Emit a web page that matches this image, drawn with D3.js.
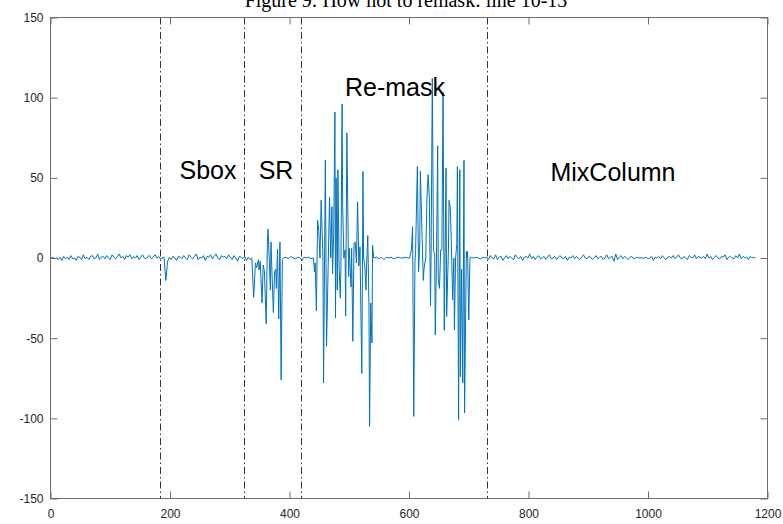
<!DOCTYPE html>
<html>
<head>
<meta charset="utf-8">
<script src="https://cdn.jsdelivr.net/npm/d3@7"></script>
<style>
  html, body { margin: 0; padding: 0; background: #fff; }
  #chart { width: 783px; height: 524px; overflow: hidden; }
</style>
</head>
<body>
<div id="chart"></div>
<script>
// Data
const titleText = 'Figure 9: How not to remask: line 10-13';
const xTicks = [0, 200, 400, 600, 800, 1000, 1200];
const yTicks = [-150, -100, -50, 0, 50, 100, 150];
const phaseBounds = [184, 324, 420, 730];
const phaseLabels = ['Sbox', 'SR', 'Re-mask', 'MixColumn'];
const phaseLabelX = [208, 276, 395, 613];
const phaseLabelY = [49, 49, 101, 48];

// quiet trace before the SR burst: x = 1, 4, 7, ... 337
const noiseBeforeStart = 1;
const noiseStep = 3;
const noiseBefore = [
  0, 0.5, -0.5, 0, -1, 0.5, -1.5, 1, -0.5, 0.5,
  -1, 1.5, -0.5, 0, -1.5, 1, 0.5, -1, 2, -0.5,
  0.5, -1, 1, 1.5, -0.5, 0, 2.5, -1, 0.5, 1,
  -0.5, 1.5, 0, -1, 2, 0.5, -0.5, 1, 2.5, 0,
  1, -1, 1.5, 0.5, 2, -0.5, 1, 0, 1.5, -1,
  0.5, 2, 0, -0.5, 1, 1.5, -0.5, 0.5, 2, 0,
  1, -0.5, 0, 0.5, -14, -2, 0.5, -1, 1, 0,
  -1.5, 1, 0.5, -0.5, 1.5, 0, -1, 2, 0.5, -0.5,
  1, 2.5, -1, 0.5, 0, 1.5, -1.5, 1, 0.5, 2,
  -0.5, 1, 2.5, 0, -1, 1.5, 0.5, 1, -0.5, 2,
  0.5, -1, 1.5, 0, -2, 1, 0.5, -0.5, 1, -1.5,
  0.5, -1, 0
];

// SR burst
const srX = [340, 343, 345, 348, 349, 351, 354, 356, 358, 361, 363, 364, 365, 368, 369, 371, 373, 375, 377, 378, 380, 382, 384, 386, 388];
const srY = [-24.5, -3, -6, -1, -7.5, -2, -28, -4.4, -8, -41, 10, 18, 10, -20, 10, -12.6, -34, -8.5, -7, -19, 5.4, -38, 10, -76, -1];

// flat stretch between SR and the first re-mask burst
const gap1X = [390, 394, 398, 402, 406, 410, 414, 418, 421, 424, 428, 432, 436, 440];
const gap1Y = [0, 0.5, -0.5, 1, 0, -0.5, 0.5, 0, -1.5, 0.5, 0, 0.5, -0.5, 0];

// first re-mask burst
const remask1X = [442, 443, 445, 447, 449, 451, 453, 456, 457, 460, 462, 465, 467, 469, 471, 472, 474, 476, 477, 478, 480, 481, 483, 485, 486, 488, 489, 491, 493, 494, 496, 499, 500, 503, 504, 506, 508, 510, 512, 514, 516, 518, 519, 521, 523, 524, 526, 528, 529, 531, 533, 534, 536, 538, 539, 541];
const remask1Y = [-8.5, -3, -33, 23.6, 17, 0, 36, 0, -78, 61, -55, 0, 38, 0, 32, -10, 15, 91, -37.5, 50, -20, 55, -5, -25, -7, 96, 32, 0, 5, -36, 78, -11.6, 6, -18, 6, -52, 9, 10, -3, 35, -5, 7, -21, -72, 54, 0, -5, -20, -5, 14, -30, -105, -28, -53, 8, 0];

// flat stretch between the two re-mask bursts
const gap2X = [546, 550, 554, 558, 562, 566, 570, 574, 578, 582, 586, 590, 594, 598, 601];
const gap2Y = [0.5, -0.5, 0.5, -1, 0.5, 0, 0.5, -0.5, 0, 0.5, 0, 0, 0.5, 0, 0];

// second re-mask burst
const remask2X = [604, 606, 608, 610, 611, 614, 616, 618, 619, 622, 624, 625, 628, 630, 632, 634, 636, 637, 639, 641, 643, 644, 646, 648, 649, 651, 653, 655, 657, 659, 662, 663, 666, 667, 669, 671, 673, 675, 676, 678, 680, 681, 683, 685, 686, 688, 690, 692, 693, 696, 697, 698, 700, 702];
const remask2Y = [5, 19.5, -98.8, -2, 4, 57, -8.5, 9, 54, 12, -14, -7, 0, 37, 52, 38, -30, 3, 112, 4, 3, -48, 0, 70, -14, -19, 5, 5, 103.5, -45, 56, -36.5, 5, 36, 32, 8, -26, 0, -45, 0, 9, 57, -101, 55, -74, -7, -78, 61, -96.7, 4, 0, 4, -38.6, 0];

// flat stretch before MixColumn
const gap3X = [704, 708, 712, 716, 720, 724, 728];
const gap3Y = [0.5, 0, 0.5, 0, -0.5, 0.5, 0];

// quiet trace during MixColumn: x = 730, 733, ... 1180
const noiseAfterStart = 730;
const noiseAfter = [
  0.5, -1, 1.5, 0, -0.5, 2, -1, 0.5, 1, -1.5,
  0, 1.5, -0.5, 1, 0, -1, 2, 0.5, -0.5, 1,
  -1.5, 0.5, 1, 0, 2.5, -0.5, 1, -1, 0.5, 1.5,
  -0.5, 0, 1, -1, 0.5, 2, -0.5, 0, 1, -1,
  0.5, 1.5, 0, -0.5, 1, -1.5, 0.5, 0, 1.5, -0.5,
  1, 0, -1, 0.5, 2, 0, -0.5, 1, 0.5, -1,
  0, 1.5, -0.5, 0.5, 1, -1, 0, 2, -0.5, 0.5,
  1, -2, 2.5, -1, 0.5, 1.5, -0.5, 1, 0, -1,
  0.5, 1, -0.5, 0, 0.5, 0, 0, 0, 0, 0.5,
  -0.5, 0, 1, -1.5, 0.5, 0, 1, -0.5, 1.5, 0,
  -1, 0.5, 1, 0, 1.5, -0.5, 0.5, 2, 0, -0.5,
  1, 0, -1, 1.5, 0.5, 0, 2, -0.5, 1, 0.5,
  0, 1, -0.5, 2.5, 0, 1, -1, 0.5, 1.5, 0,
  -0.5, 1, 0.5, 2, -1, 0.5, 1, 0, -0.5, 1.5,
  0, 2.5, -0.5, 1, 0, 0.5, -1, 1, 0, 0.5, 0
];

// Assemble the trace
const trace = [];
noiseBefore.forEach((v, i) => trace.push([noiseBeforeStart + i * noiseStep, v]));
[[srX, srY], [gap1X, gap1Y], [remask1X, remask1Y], [gap2X, gap2Y],
 [remask2X, remask2Y], [gap3X, gap3Y]].forEach(([xs, ys]) => {
  xs.forEach((xv, i) => trace.push([xv, ys[i]]));
});
noiseAfter.forEach((v, i) => trace.push([noiseAfterStart + i * noiseStep, v]));

// Layout
const width = 783;
const height = 524;
const plotLeft = 50.5, plotRight = 767.5, plotTop = 17.5, plotBottom = 498.5;
const tickLen = 7;
const axisColor = '#6e6e6e';
const textColor = '#262626';

const x = d3.scaleLinear().domain([0, 1200]).range([plotLeft, plotRight]);
const y = d3.scaleLinear().domain([-150, 150]).range([plotBottom, plotTop]);

const svg = d3.select('#chart')
  .append('svg')
  .attr('width', width)
  .attr('height', height);

svg.append('rect')
  .attr('width', width)
  .attr('height', height)
  .attr('fill', '#fff');

// Title (cut off at the top, as in the original)
svg.append('text')
  .attr('x', 406)
  .attr('y', 7)
  .attr('text-anchor', 'middle')
  .style('font-family', '"Liberation Serif", "Times New Roman", serif')
  .style('font-size', '20px')
  .attr('fill', '#000')
  .text(titleText);

// Data line
svg.append('path')
  .datum(trace)
  .attr('fill', 'none')
  .attr('stroke', '#0072BD')
  .attr('stroke-width', 1)
  .attr('stroke-linejoin', 'round')
  .attr('d', d3.line().x(d => x(d[0])).y(d => y(d[1])));

// Phase boundaries (dash-dot)
svg.selectAll('.bound')
  .data(phaseBounds)
  .enter()
  .append('line')
  .attr('class', 'bound')
  .attr('x1', d => Math.round(x(d)) + 0.5)
  .attr('x2', d => Math.round(x(d)) + 0.5)
  .attr('y1', plotTop)
  .attr('y2', plotBottom)
  .attr('stroke', '#000')
  .attr('stroke-width', 0.8)
  .attr('stroke-dasharray', '7,3,1.5,3');

// Phase labels
svg.selectAll('.phase')
  .data(phaseLabels)
  .enter()
  .append('text')
  .attr('class', 'phase')
  .attr('x', (d, i) => phaseLabelX[i])
  .attr('y', (d, i) => y(phaseLabelY[i]))
  .attr('text-anchor', 'middle')
  .style('font-family', '"Liberation Sans", Arial, Helvetica, sans-serif')
  .style('font-size', '25px')
  .attr('fill', '#000')
  .text(d => d);

// Axes: bottom/left with labels, inward ticks on all four sides
const plainNumber = d => String(d);
const axisStyle = g => {
  g.select('.domain').remove();
  g.selectAll('.tick line').attr('stroke', axisColor);
  g.selectAll('.tick text')
    .attr('fill', textColor)
    .style('font-family', '"Liberation Sans", Arial, Helvetica, sans-serif')
    .style('font-size', '12px');
};

svg.append('g')
  .attr('transform', `translate(0,${plotBottom})`)
  .call(d3.axisBottom(x).tickValues(xTicks).tickSizeInner(-tickLen).tickSizeOuter(0).tickPadding(11).tickFormat(plainNumber))
  .call(axisStyle);

svg.append('g')
  .attr('transform', `translate(${plotLeft},0)`)
  .call(d3.axisLeft(y).tickValues(yTicks).tickSizeInner(-tickLen).tickSizeOuter(0).tickPadding(7).tickFormat(plainNumber))
  .call(axisStyle);

svg.append('g')
  .attr('transform', `translate(0,${plotTop})`)
  .call(d3.axisTop(x).tickValues(xTicks).tickSizeInner(-tickLen).tickSizeOuter(0).tickFormat(''))
  .call(axisStyle);

svg.append('g')
  .attr('transform', `translate(${plotRight},0)`)
  .call(d3.axisRight(y).tickValues(yTicks).tickSizeInner(-tickLen).tickSizeOuter(0).tickFormat(''))
  .call(axisStyle);

// Box
svg.append('rect')
  .attr('x', plotLeft)
  .attr('y', plotTop)
  .attr('width', plotRight - plotLeft)
  .attr('height', plotBottom - plotTop)
  .attr('fill', 'none')
  .attr('stroke', axisColor)
  .attr('stroke-width', 1);
</script>
</body>
</html>
